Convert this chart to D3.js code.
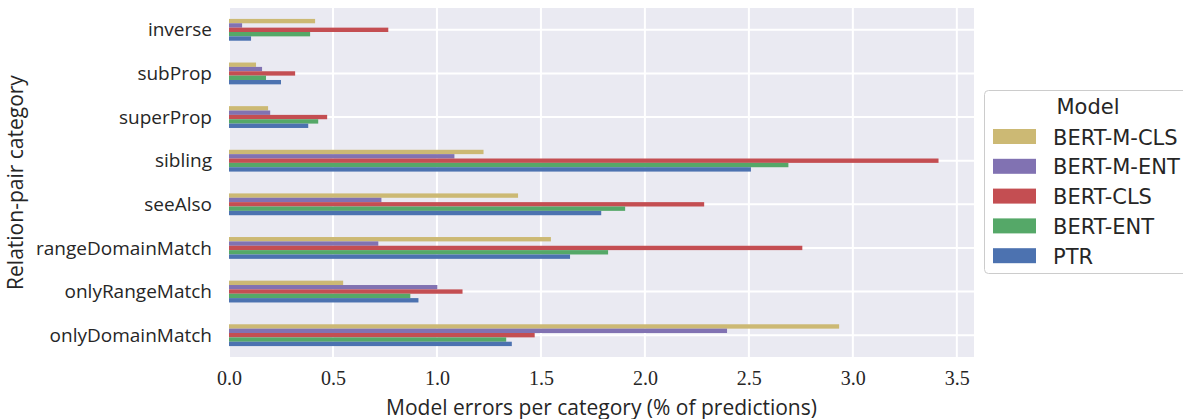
<!DOCTYPE html>
<html>
<head>
<meta charset="utf-8">
<script src="https://cdn.jsdelivr.net/npm/d3@7"></script>
<style>
  body { margin: 0; background: #fff; }
  svg { display: block; }
  .cat text { font-family: "Open Sans", sans-serif; font-size: 19px; fill: #262626; }
  .xtick text { font-family: "Liberation Serif", serif; font-size: 20px; fill: #262626; }
  .title { font-family: "Open Sans", sans-serif; font-size: 21px; fill: #262626; }
  .legend text { font-family: "DejaVu Sans", sans-serif; font-size: 21px; fill: #262626; }
</style>
</head>
<body>
<div id="chart"></div>
<script>
// 数据：类别、模型（系列）和每个模型的错误率
const categories = ["inverse", "subProp", "superProp", "sibling", "seeAlso",
  "rangeDomainMatch", "onlyRangeMatch", "onlyDomainMatch"];
const models = ["BERT-M-CLS", "BERT-M-ENT", "BERT-CLS", "BERT-ENT", "PTR"];
const colors = ["#CCB974", "#8172B2", "#C44E52", "#55A868", "#4C72B0"];

const bertMCls = [0.414, 0.130, 0.188, 1.224, 1.390, 1.548, 0.549, 2.934];
const bertMEnt = [0.063, 0.159, 0.198, 1.084, 0.733, 0.718, 1.002, 2.395];
const bertCls  = [0.766, 0.318, 0.472, 3.412, 2.285, 2.757, 1.123, 1.470];
const bertEnt  = [0.390, 0.178, 0.429, 2.690, 1.905, 1.823, 0.872, 1.333];
const ptr      = [0.106, 0.250, 0.381, 2.510, 1.790, 1.640, 0.911, 1.360];
const seriesValues = [bertMCls, bertMEnt, bertCls, bertEnt, ptr];

const xTicks = [0, 0.5, 1.0, 1.5, 2.0, 2.5, 3.0, 3.5];

// 1. 尺寸和边距
const W = 1183, H = 419;
const plot = { left: 229, right: 974, top: 8, bottom: 357 };

const svg = d3.select("#chart").append("svg")
  .attr("width", W).attr("height", H);

// 2. 比例尺
const maxVal = d3.max(seriesValues, s => d3.max(s));
const x = d3.scaleLinear()
  .domain([0, maxVal * 1.05])
  .range([plot.left, plot.right]);

const y = d3.scaleBand()
  .domain(categories)
  .range([plot.top, plot.bottom])
  .paddingInner(0).paddingOuter(0);

// 每组条形只占类别带宽的一半
const yInner = d3.scaleBand()
  .domain(models)
  .range([y.bandwidth() * 0.25, y.bandwidth() * 0.75]);

// 3. 背景和网格
svg.append("rect")
  .attr("x", plot.left).attr("y", plot.top)
  .attr("width", plot.right - plot.left).attr("height", plot.bottom - plot.top)
  .attr("fill", "#EAEAF2");

svg.append("g").selectAll("line")
  .data(xTicks).enter().append("line")
  .attr("x1", d => x(d)).attr("x2", d => x(d))
  .attr("y1", plot.top).attr("y2", plot.bottom)
  .attr("stroke", "#fff").attr("stroke-width", 2);

svg.append("g").selectAll("line")
  .data(categories).enter().append("line")
  .attr("x1", plot.left).attr("x2", plot.right)
  .attr("y1", d => y(d) + y.bandwidth() / 2).attr("y2", d => y(d) + y.bandwidth() / 2)
  .attr("stroke", "#fff").attr("stroke-width", 2);

// 4. 条形
const groups = svg.append("g").selectAll("g")
  .data(models).enter().append("g")
  .attr("fill", (d, i) => colors[i]);

groups.selectAll("rect")
  .data((m, i) => categories.map((c, j) => ({ cat: c, model: m, value: seriesValues[i][j] })))
  .enter().append("rect")
  .attr("x", x(0))
  .attr("y", d => y(d.cat) + yInner(d.model))
  .attr("width", d => x(d.value) - x(0))
  .attr("height", yInner.bandwidth());

// 5. 坐标轴
const yAxis = svg.append("g").attr("class", "cat")
  .attr("transform", `translate(${plot.left - 17},0)`)
  .call(d3.axisLeft(y).tickSize(0).tickPadding(0));
yAxis.select(".domain").remove();
yAxis.selectAll("text").attr("dy", "0.35em");

const xAxis = svg.append("g").attr("class", "xtick")
  .attr("transform", `translate(0,${plot.bottom})`)
  .call(d3.axisBottom(x).tickValues(xTicks).tickFormat(d3.format(".1f")).tickSize(0).tickPadding(14));
xAxis.select(".domain").remove();

svg.append("text").attr("class", "title")
  .attr("x", (plot.left + plot.right) / 2 - 0).attr("y", 415)
  .attr("text-anchor", "middle")
  .text("Model errors per category (% of predictions)");

svg.append("text").attr("class", "title")
  .attr("transform", `translate(23,${(plot.top + plot.bottom) / 2}) rotate(-90)`)
  .attr("text-anchor", "middle")
  .text("Relation-pair category");

// 6. 图例
const legend = svg.append("g").attr("class", "legend");
legend.append("rect")
  .attr("x", 984.5).attr("y", 90.5).attr("width", 208).attr("height", 183)
  .attr("rx", 4).attr("fill", "#fff").attr("stroke", "#cccccc");
legend.append("text")
  .attr("x", 1088).attr("y", 114).attr("text-anchor", "middle").text("Model");
const items = legend.selectAll("g.item")
  .data(models).enter().append("g").attr("class", "item")
  .attr("transform", (d, i) => `translate(993,${129 + i * 29.8})`);
items.append("rect").attr("width", 43).attr("height", 15)
  .attr("fill", (d, i) => colors[i]);
items.append("text").attr("x", 60).attr("y", 15.5).text(d => d);
</script>
</body>
</html>
